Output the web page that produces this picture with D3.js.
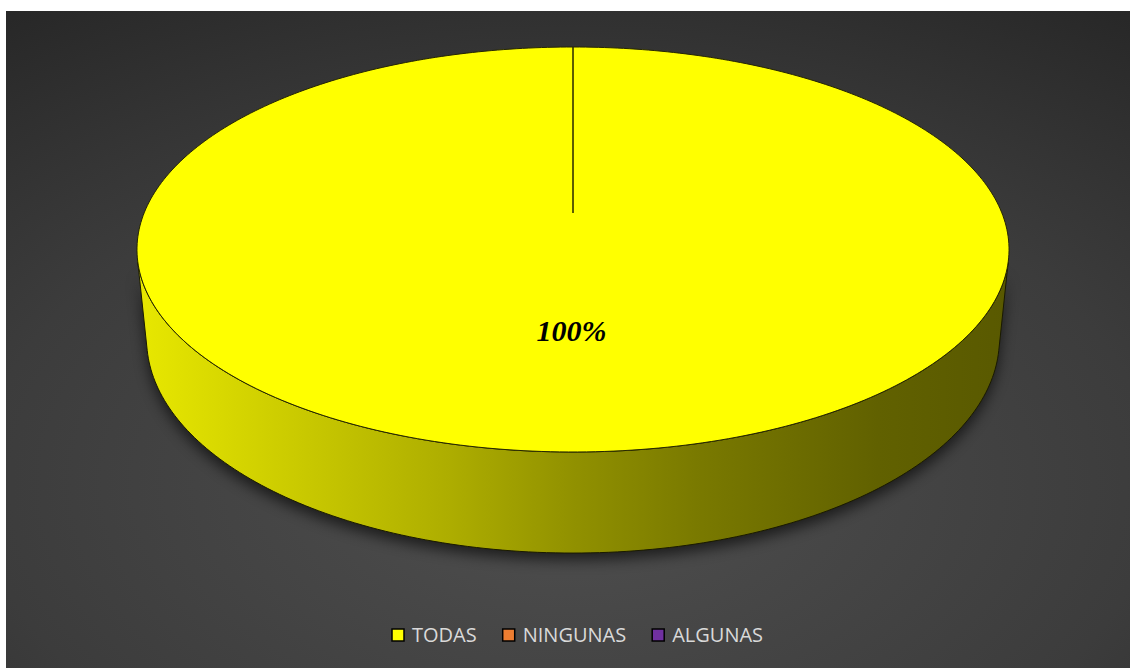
<!DOCTYPE html>
<html>
<head>
<meta charset="utf-8">
<script src="https://cdn.jsdelivr.net/npm/d3@7"></script>
<style>
  html, body { margin: 0; padding: 0; background: #ffffff; }
  svg { display: block; }
</style>
</head>
<body>
<svg id="chart" width="1130" height="668"></svg>
<script>
// Chart data
const categories = ["TODAS", "NINGUNAS", "ALGUNAS"];
const values = [100, 0, 0];
const colors = ["#FFFF00", "#ED7D31", "#7030A0"];

const W = 1130, H = 668;
const svg = d3.select("#chart");
const defs = svg.append("defs");

// Chart area background (dark radial gradient)
const bg = defs.append("radialGradient")
  .attr("id", "bgGrad")
  .attr("cx", 0.5).attr("cy", 0.72).attr("r", 0.95);
bg.append("stop").attr("offset", 0).attr("stop-color", "#4f4f4f");
bg.append("stop").attr("offset", 0.55).attr("stop-color", "#3c3c3c");
bg.append("stop").attr("offset", 1).attr("stop-color", "#232323");

const area = { x: 6, y: 11, w: W - 6, h: H - 11 };
svg.append("rect")
  .attr("x", area.x).attr("y", area.y)
  .attr("width", area.w).attr("height", area.h)
  .attr("fill", "url(#bgGrad)");

// Perspective projection of a tilted disc of unit radius
const view = {
  cx: 573,          // screen x of disc centre
  cy: 213,          // screen y of disc centre
  focal: 2117,      // focal length (px)
  dist: 4.936,      // camera distance (disc radii)
  tilt: 27.18 * Math.PI / 180,
  depth: 0.2367     // cylinder height (disc radii)
};
const sT = Math.sin(view.tilt), cT = Math.cos(view.tilt);

// angle: 0 = far (top), clockwise; r: radius fraction; yw: height (0 top, -depth bottom)
function project(angle, r, yw) {
  const X = r * Math.sin(angle);
  const D = r * Math.cos(angle);
  const yc = yw * cT + D * sT;
  const zc = view.dist + D * cT - yw * sT;
  return [view.cx + view.focal * X / zc, view.cy - view.focal * yc / zc];
}

// silhouette generator angle of the cylinder wall
const phiS = Math.acos(-1 / (view.dist * cT));
const sideLo = phiS, sideHi = 2 * Math.PI - phiS;

function arcPts(a0, a1, r, yw) {
  const n = Math.max(2, Math.ceil(Math.abs(a1 - a0) / (Math.PI / 180)));
  return d3.range(n + 1).map(i => project(a0 + (a1 - a0) * i / n, r, yw));
}

const line = d3.line();
const pie = d3.pie().sort(null).value(d => d.value);
const data = categories.map((c, i) => ({ name: c, value: values[i], color: colors[i] }));
const arcs = pie(data).filter(a => a.data.value > 0);
const total = d3.sum(values);

const leftX = project(sideHi, 1, 0)[0];
const rightX = project(sideLo, 1, 0)[0];

// wall shading, light on the left and dark on the right
arcs.forEach((a, i) => {
  const g = defs.append("linearGradient")
    .attr("id", "side" + i)
    .attr("gradientUnits", "userSpaceOnUse")
    .attr("x1", leftX).attr("y1", 0).attr("x2", rightX).attr("y2", 0);
  const base = d3.color(a.data.color);
  [[0, 0.91], [0.36, 0.68], [0.5, 0.57], [0.64, 0.48], [0.85, 0.38], [1, 0.35]].forEach(([o, k]) => {
    g.append("stop").attr("offset", o)
      .attr("stop-color", d3.rgb(base.r * k, base.g * k, base.b * k).formatHex());
  });
});

// drop shadow under the pie
const blur = defs.append("filter").attr("id", "shadowBlur")
  .attr("x", "-20%").attr("y", "-20%").attr("width", "140%").attr("height", "140%");
blur.append("feGaussianBlur").attr("stdDeviation", 7);

const silhouette = arcPts(sideLo, sideHi, 1, 0)
  .concat(arcPts(sideHi, sideLo, 1, -view.depth));
svg.append("path")
  .attr("d", line(silhouette) + "Z")
  .attr("transform", "translate(0,7)")
  .attr("fill", "#000")
  .attr("opacity", 0.6)
  .attr("filter", "url(#shadowBlur)");

// visible walls of the slices
arcs.forEach((a, i) => {
  const a0 = Math.max(a.startAngle, sideLo);
  const a1 = Math.min(a.endAngle, sideHi);
  if (a1 <= a0) return;
  const pts = arcPts(a0, a1, 1, 0).concat(arcPts(a1, a0, 1, -view.depth));
  svg.append("path")
    .attr("d", line(pts) + "Z")
    .attr("fill", "url(#side" + i + ")")
    .attr("stroke", "#1a1a00")
    .attr("stroke-width", 1)
    .attr("stroke-linejoin", "round");
});

// top faces of the slices
const centre = project(0, 0, 0);
arcs.forEach(a => {
  const pts = [centre].concat(arcPts(a.startAngle, a.endAngle, 1, 0));
  svg.append("path")
    .attr("d", line(pts) + "Z")
    .attr("fill", a.data.color)
    .attr("stroke", "#262600")
    .attr("stroke-width", 1)
    .attr("stroke-linejoin", "round");
});

// data labels
const pct = d3.format(".0%");
arcs.forEach(a => {
  const mid = (a.startAngle + a.endAngle) / 2;
  const p = project(mid, 0.55, 0);
  svg.append("text")
    .attr("x", p[0] - 1.5)
    .attr("y", p[1] + 8)
    .attr("text-anchor", "middle")
    .attr("font-family", "'Liberation Serif', 'Times New Roman', serif")
    .attr("font-weight", "bold")
    .attr("font-style", "italic")
    .attr("font-size", 30)
    .attr("fill", "#000")
    .text(pct(a.data.value / total));
});

// legend
const legend = svg.append("g").attr("font-family", "'Open Sans', sans-serif").attr("font-size", 20);
const items = legend.selectAll("g").data(data).join("g");
items.append("rect")
  .attr("width", 12).attr("height", 12)
  .attr("y", -13)
  .attr("fill", d => d.color)
  .attr("stroke", "#000")
  .attr("stroke-width", 1.5);
items.append("text")
  .attr("x", 20).attr("y", 0)
  .attr("fill", "#d9d9d9")
  .text(d => d.name);
let xPos = 0;
items.each(function () {
  const w = d3.select(this).select("text").node().getComputedTextLength();
  d3.select(this).attr("transform", `translate(${xPos},0)`);
  xPos += 20 + w + 26;
});
const legendW = xPos - 26;
legend.attr("transform", `translate(${Math.round(577.5 - legendW / 2)},642)`);
</script>
</body>
</html>
